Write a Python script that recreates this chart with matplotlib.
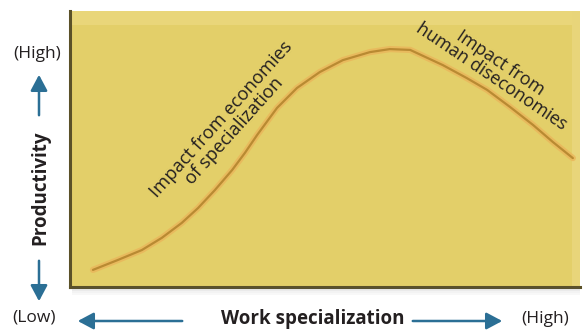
import matplotlib
matplotlib.use("Agg")
import matplotlib.pyplot as plt
from matplotlib.patches import FancyArrowPatch, Rectangle

# Data (arbitrary 0-100 units)
specialization = [4.5, 9.4, 14.1, 18.0, 21.9, 25.1, 28.4, 31.8, 34.3, 36.7, 40.6, 44.5, 49.0,
                  53.5, 58.8, 62.7, 66.7, 73.1, 77.8, 81.8, 86.3, 90.8, 94.7, 98.6]
productivity = [6.2, 9.8, 13.4, 17.8, 23.2, 28.6, 35.1, 42.4, 48.6, 55.1, 64.9, 72.1, 77.9,
                82.2, 85.1, 86.2, 85.9, 80.4, 75.7, 71.4, 65.2, 58.7, 52.5, 46.7]

x_label = "Work specialization"
y_label = "Productivity"
low_label = "(Low)"
high_label = "(High)"
note_left = "Impact from economies\nof specialization"
note_right = "Impact from\nhuman diseconomies"

W, H = 584, 333
fig = plt.figure(figsize=(W / 100, H / 100), dpi=100)
fig.patch.set_facecolor("white")

def fx(px):
    return px / W

def fy(py):
    return 1 - py / H

FONT = "Open Sans"
TXT = "#231f20"
ARROW = "#2b6f95"

# shadow under the box
for i, a in enumerate([0.18, 0.12, 0.07, 0.04]):
    fig.patches.append(Rectangle((fx(72), fy(289 + i * 2)), fx(580) - fx(72), 2 / H,
                                 transform=fig.transFigure, color="#555555", alpha=a, lw=0))

ax = fig.add_axes([fx(70), fy(287), fx(580) - fx(70), fy(11) - fy(287)])
ax.set_facecolor("#e3cf69")
ax.set_xlim(0, 100)
ax.set_ylim(0, 100)
ax.set_xticks([])
ax.set_yticks([])
for s in ["top", "right"]:
    ax.spines[s].set_visible(False)
for s in ["left", "bottom"]:
    ax.spines[s].set_color("#5b5128")
    ax.spines[s].set_linewidth(2.2)

# lighter bands on top and right
ax.axhspan(95, 100, color="#e9d67a", lw=0)
ax.axvspan(98.5, 100, color="#e8d57a", lw=0)

ax.plot(specialization, productivity, color="#eab55a", lw=4.5, solid_capstyle="round",
        solid_joinstyle="round", alpha=0.8)
ax.plot(specialization, productivity, color="#b98a32", lw=1.6, solid_capstyle="round",
        solid_joinstyle="round")

fig.text(fx(228), fy(125), note_left, rotation=48,
         rotation_mode="anchor", ha="center", va="center", multialignment="center",
         fontsize=13.2, family=FONT, color=TXT, linespacing=0.9)
fig.text(fx(496), fy(70), note_right, rotation=-34,
         rotation_mode="anchor", ha="center", va="center", multialignment="center",
         fontsize=12.8, family=FONT, color=TXT, linespacing=0.9)

# y-axis labels
fig.text(fx(37), fy(54), high_label, ha="center", va="center", fontsize=12.5, family=FONT, color=TXT)
fig.text(fx(34), fy(318), low_label, ha="center", va="center", fontsize=12.5, family=FONT, color=TXT)
fig.text(fx(40), fy(188), y_label, ha="center", va="center", rotation=90, fontsize=13.5,
         family=FONT, weight="bold", color=TXT)

def arrow(p0, p1):
    fig.patches.append(FancyArrowPatch((fx(p0[0]), fy(p0[1])), (fx(p1[0]), fy(p1[1])),
                                       transform=fig.transFigure, arrowstyle="-|>,head_length=6,head_width=3.2",
                                       color=ARROW, lw=1.8, mutation_scale=1.6))

arrow((39, 118), (39, 72))
arrow((39, 258), (39, 304))

# x-axis labels
fig.text(fx(313), fy(319), x_label, ha="center", va="center", fontsize=13.5, family=FONT,
         weight="bold", color=TXT)
fig.text(fx(545), fy(319), high_label, ha="center", va="center", fontsize=12.5, family=FONT, color=TXT)
arrow((185, 321), (75, 321))
arrow((410, 321), (505, 321))

fig.savefig("out.png", dpi=100, facecolor="white")
